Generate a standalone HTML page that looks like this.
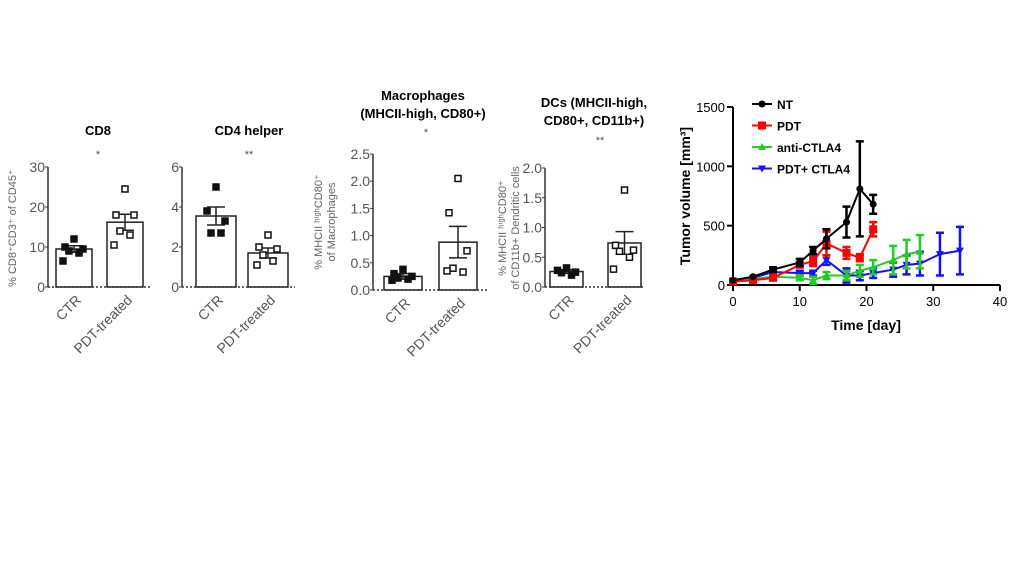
<!DOCTYPE html>
<html><head><meta charset="utf-8"><style>
body{margin:0;background:#fff;width:1024px;height:576px;overflow:hidden;font-family:"Liberation Sans",sans-serif}
svg{position:absolute;left:0;top:0}
</style></head><body>
<svg id="s" width="1024" height="576" xmlns="http://www.w3.org/2000/svg"></svg>
<script>
// Bar panel data
const barGroups = ["CTR","PDT-treated"];
const cd8Means = [9.5,16.2], cd8Err = [0.8,2.0];
const cd8Pts = [[12,10,9.5,9,8.5,6.5],[24.5,18,18,14,13,10.5]];
const cd8Ticks = [0,10,20,30];
const cd4Means = [3.55,1.7], cd4Err = [0.45,0.25];
const cd4Pts = [[5,3.8,3.3,2.7,2.7],[2.6,2.0,1.9,1.6,1.3,1.1]];
const cd4Ticks = [0,2,4,6];
const macMeans = [0.25,0.88], macErr = [0.05,0.29];
const macPts = [[0.38,0.3,0.25,0.22,0.2,0.18],[2.05,1.42,0.72,0.4,0.33,0.35]];
const macTicks = [0,0.5,1.0,1.5,2.0,2.5];
const dcMeans = [0.26,0.74], dcErr = [0.03,0.19];
const dcPts = [[0.32,0.28,0.25,0.24,0.2],[1.63,0.7,0.62,0.6,0.5,0.3]];
const dcTicks = [0,0.5,1.0,1.5,2.0];
// Line chart data
const seriesNames = ["NT","PDT","anti-CTLA4","PDT+ CTLA4"];
const ntDays=[0,3,6,10,12,14,17,19,21], ntVals=[40,70,130,190,290,390,530,810,680], ntErr=[0,0,20,30,30,80,130,400,80];
const pdtDays=[0,3,6,10,12,14,17,19,21], pdtVals=[30,40,60,170,200,350,270,230,470], pdtErr=[0,0,10,20,40,100,50,30,60];
const ctDays=[0,3,6,10,12,14,17,19,21,24,26,28], ctVals=[30,50,70,60,40,80,80,120,150,210,260,280], ctErr=[0,0,0,20,30,30,40,50,60,120,120,140];
const pcDays=[0,3,6,10,12,14,17,19,21,24,26,28,31,34], pcVals=[30,60,110,100,100,210,80,80,100,130,170,180,260,290], pcErr=[0,0,20,20,20,40,60,40,40,60,80,100,180,200];
const xTicks=[0,10,20,30,40], yTicks=[0,500,1000,1500];

const S=document.getElementById('s'), NS="http://www.w3.org/2000/svg";
function el(t,a,txt){const e=document.createElementNS(NS,t);for(const k in a)e.setAttribute(k,a[k]);if(txt!==undefined)e.textContent=txt;S.appendChild(e);return e;}
const jit=[0,-9,9,-5,5,-11];

function barPanel(o){
  const y=v=>o.y0-(v-0)/o.max*(o.y0-o.yTop);
  let e=el('line',{x1:o.ax,y1:o.yTop,x2:o.ax,y2:o.y0,stroke:'#333','stroke-width':1.5});
  
  o.ticks.forEach(t=>{
    let l=el('line',{x1:o.ax-3,y1:y(t),x2:o.ax,y2:y(t),stroke:'#333','stroke-width':1});
    
    let tx=el('text',{x:o.ax-3,y:y(t)+5,'text-anchor':'end','font-size':14,fill:'#555'},o.fmt(t));
    
  });
  o.means.forEach((m,i)=>{
    const x0=o.bx[i],w=o.bw;
    let b=el('rect',{x:x0,y:y(m),width:w,height:o.y0-y(m),fill:'#fff',stroke:'#222','stroke-width':1.5});
    
    const cx=x0+w/2;
    let er=el('path',{d:`M${cx} ${y(m-o.err[i])}V${y(m+o.err[i])}M${cx-9} ${y(m+o.err[i])}h18M${cx-9} ${y(m-o.err[i])}h18`,stroke:'#222','stroke-width':1.5,fill:'none'});
    
    o.pts[i].forEach((p,j)=>{
      const off=jit[j%jit.length];
      let r=el('rect',{x:cx+off-3,y:y(p)-3,width:6,height:6,fill:i==0?'#111':'#fff',stroke:'#111','stroke-width':1.5});
      
    });
    let lb=el('text',{transform:`translate(${cx+8},${o.y0+14}) rotate(-45)`,'text-anchor':'end','font-size':14,fill:'#555'},barGroups[i]);
    
  });
  let xa=el('line',{x1:o.ax,y1:o.y0,x2:o.xEnd,y2:o.y0,stroke:'#333','stroke-width':1.5,'stroke-dasharray':'2,2'});
  
  o.title.forEach((t,k)=>{let tt=el('text',{x:o.tx,y:o.ty+k*18,'text-anchor':'middle','font-size':13,'font-weight':'bold',fill:'#000'},t);
    });
  let st=el('text',{x:o.sx,y:o.sy,'text-anchor':'middle','font-size':11,fill:'#555'},o.star);
  
  o.ylab.forEach((t,k)=>{let yl=el('text',{transform:`translate(${o.ylx+k*13},${o.yly}) rotate(-90)`,'text-anchor':'middle','font-size':11,fill:'#666'},t);
    });
}
const f0=t=>String(t), f1=t=>t.toFixed(1);
barPanel({id:'cd8',ax:48,y0:287,yTop:167,max:30,ticks:cd8Ticks,fmt:f0,means:cd8Means,err:cd8Err,pts:cd8Pts,bx:[56,107],bw:36,xEnd:150,title:['CD8'],tx:98,ty:135,star:'*',sx:98,sy:158,ylab:['% CD8⁺CD3⁺ of CD45⁺'],ylx:16,yly:228});
barPanel({id:'cd4',ax:182,y0:287,yTop:167,max:6,ticks:cd4Ticks,fmt:f0,means:cd4Means,err:cd4Err,pts:cd4Pts,bx:[196,248],bw:40,xEnd:295,title:['CD4 helper'],tx:249,ty:135,star:'**',sx:249,sy:158,ylab:[]});
barPanel({id:'mac',ax:373,y0:290,yTop:154,max:2.5,ticks:macTicks,fmt:f1,means:macMeans,err:macErr,pts:macPts,bx:[384,439],bw:38,xEnd:487,title:['Macrophages','(MHCII-high,  CD80+)'],tx:423,ty:100,star:'*',sx:426,sy:136,ylab:['% MHCII ʰⁱᵍʰCD80⁺','of Macrophages'],ylx:322,yly:222});
barPanel({id:'dc',ax:545,y0:287,yTop:168,max:2.0,ticks:dcTicks,fmt:f1,means:dcMeans,err:dcErr,pts:dcPts,bx:[550,608],bw:33,xEnd:645,title:['DCs (MHCII-high,','CD80+, CD11b+)'],tx:594,ty:107,star:'**',sx:600,sy:144,ylab:['% MHCII ʰⁱᵍʰCD80⁺','of CD11b+ Dendritic cells'],ylx:506,yly:228});

// line chart
const X=d=>733+d/40*(1000-733), Y=v=>285-v/1500*(285-107);
let ya=el('line',{x1:733,y1:107,x2:733,y2:285,stroke:'#000','stroke-width':2});

let xa=el('line',{x1:733,y1:285,x2:1000,y2:285,stroke:'#000','stroke-width':2});

yTicks.forEach(t=>{let l=el('line',{x1:727,y1:Y(t),x2:733,y2:Y(t),stroke:'#000','stroke-width':2});
  
  let tx=el('text',{x:725,y:Y(t)+5,'text-anchor':'end','font-size':13,fill:'#000'},t);
  });
xTicks.forEach(t=>{let l=el('line',{x1:X(t),y1:285,x2:X(t),y2:291,stroke:'#000','stroke-width':2});
  
  let tx=el('text',{x:X(t),y:306,'text-anchor':'middle','font-size':13,fill:'#000'},t);
  });
let xt=el('text',{x:866,y:330,'text-anchor':'middle','font-size':14,'font-weight':'bold'},'Time [day]');

let yt=el('text',{transform:'translate(690,196) rotate(-90)','text-anchor':'middle','font-size':14,'font-weight':'bold'},'Tumor volume [mm³]');

const cols=['#000','#f00','#2c2','#11f'];
const allD=[ntDays,pdtDays,ctDays,pcDays],allV=[ntVals,pdtVals,ctVals,pcVals],allE=[ntErr,pdtErr,ctErr,pcErr];
function marker(k,x,y){const c=cols[k];
  if(k==0)return el('circle',{cx:x,cy:y,r:3.5,fill:c});
  if(k==1)return el('rect',{x:x-4,y:y-4,width:8,height:8,fill:c});
  if(k==2)return el('path',{d:`M${x} ${y-4}L${x+4} ${y+3}L${x-4} ${y+3}Z`,fill:c});
  return el('path',{d:`M${x} ${y+4}L${x+4} ${y-3}L${x-4} ${y-3}Z`,fill:c});}
[3,2,1,0].forEach(k=>{
  const d=allD[k],v=allV[k],e=allE[k];
  let p=el('polyline',{points:d.map((dd,i)=>X(dd)+','+Y(v[i])).join(' '),fill:'none',stroke:cols[k],'stroke-width':2});
  
  d.forEach((dd,i)=>{const x=X(dd);
    if(e[i]>0){let eb=el('path',{d:`M${x} ${Y(v[i]-e[i])}V${Y(v[i]+e[i])}M${x-4} ${Y(v[i]+e[i])}h8M${x-4} ${Y(v[i]-e[i])}h8`,stroke:cols[k],'stroke-width':2.5,fill:'none'});
      }
    let m=marker(k,x,Y(v[i]));});
});
seriesNames.forEach((n,k)=>{const yy=104+k*21.5;
  let l=el('line',{x1:752,y1:yy,x2:772,y2:yy,stroke:cols[k],'stroke-width':2});
  
  let m=marker(k,762,yy);
  let t=el('text',{x:777,y:yy+5,'font-size':12,'font-weight':'bold'},n);
  });
</script>
</body></html>
